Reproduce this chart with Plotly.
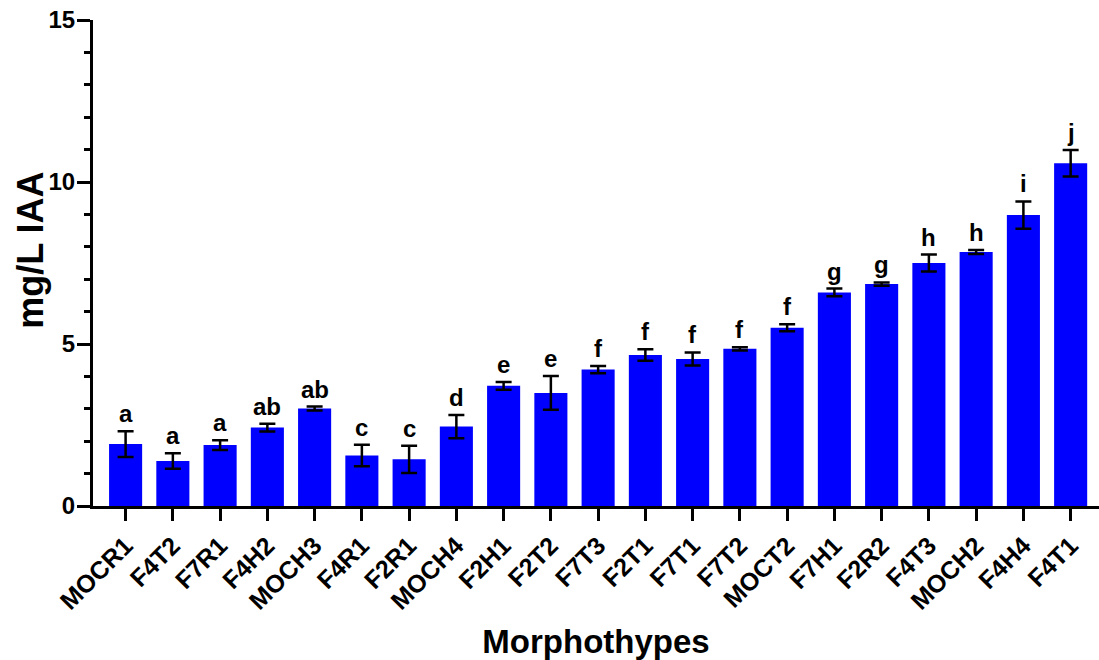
import plotly.graph_objects as go

# IAA production per morphotype (mean, SD) with post-hoc group letters
morphotypes = ["MOCR1", "F4T2", "F7R1", "F4H2", "MOCH3", "F4R1", "F2R1", "MOCH4",
               "F2H1", "F2T2", "F7T3", "F2T1", "F7T1", "F7T2", "MOCT2", "F7H1",
               "F2R2", "F4T3", "MOCH2", "F4H4", "F4T1"]
iaa_mean = [1.91, 1.39, 1.88, 2.42, 3.01, 1.56, 1.44, 2.45,
            3.71, 3.49, 4.21, 4.66, 4.54, 4.85, 5.50, 6.59,
            6.85, 7.50, 7.84, 8.98, 10.58]
iaa_sd = [0.40, 0.24, 0.15, 0.12, 0.06, 0.33, 0.42, 0.36,
          0.12, 0.52, 0.11, 0.18, 0.20, 0.05, 0.11, 0.12,
          0.05, 0.26, 0.06, 0.42, 0.41]
groups = ["a", "a", "a", "ab", "ab", "c", "c", "d", "e", "e", "f",
          "f", "f", "f", "f", "g", "g", "h", "h", "i", "j"]

FONT = "Liberation Sans, Arial, sans-serif"
x_idx = list(range(len(morphotypes)))

fig = go.Figure()
fig.add_trace(go.Bar(
    x=x_idx,
    y=iaa_mean,
    width=0.70,
    marker=dict(color="#0000FF", line=dict(width=0)),
    error_y=dict(type="data", array=iaa_sd, visible=True,
                 color="black", thickness=2.5, width=8),
    showlegend=False,
))

for i, (m, s, g) in enumerate(zip(iaa_mean, iaa_sd, groups)):
    fig.add_annotation(
        x=i, y=m + s, text=f"<b>{g}</b>", showarrow=False,
        yanchor="bottom", yshift=2,
        font=dict(family=FONT, size=24, color="black"),
    )

# vertical axis title, placed slightly above the plot's mid-height
fig.add_annotation(
    xref="paper", yref="paper", x=0, y=0.525,
    xanchor="center", yanchor="middle", xshift=-62,
    text="<b>mg/L IAA</b>", textangle=-90, showarrow=False,
    font=dict(family=FONT, size=36, color="black"),
)

fig.update_layout(
    width=1099, height=660,
    margin=dict(l=93, r=0, t=20, b=154),
    plot_bgcolor="white", paper_bgcolor="white",
    font=dict(family=FONT, color="black"),
    bargap=0.3,
)

fig.update_xaxes(
    range=[-0.69, 20.6],
    tickmode="array", tickvals=x_idx,
    ticktext=[f"<b>{m}</b>" for m in morphotypes],
    tickangle=-45,
    tickfont=dict(family=FONT, size=25, color="black"),
    ticks="outside", ticklen=12, tickwidth=3, tickcolor="black",
    showline=True, linewidth=3, linecolor="black",
    showgrid=False, zeroline=False,
    title=dict(text="<b>Morphothypes</b>",
               font=dict(family=FONT, size=33, color="black"), standoff=22),
)

fig.update_yaxes(
    range=[0, 15],
    tickvals=[0, 5, 10, 15],
    ticktext=["<b>0</b>", "<b>5</b>", "<b>10</b>", "<b>15</b>"],
    tickfont=dict(family=FONT, size=24, color="black"),
    ticks="outside", ticklen=13, tickwidth=3, tickcolor="black",
    ticklabelstandoff=-3,
    minor=dict(dtick=1, ticks="outside", ticklen=6, tickwidth=3,
               tickcolor="black", showgrid=False),
    showline=True, linewidth=3, linecolor="black",
    showgrid=False, zeroline=False,
)

fig.write_html("out.html")
